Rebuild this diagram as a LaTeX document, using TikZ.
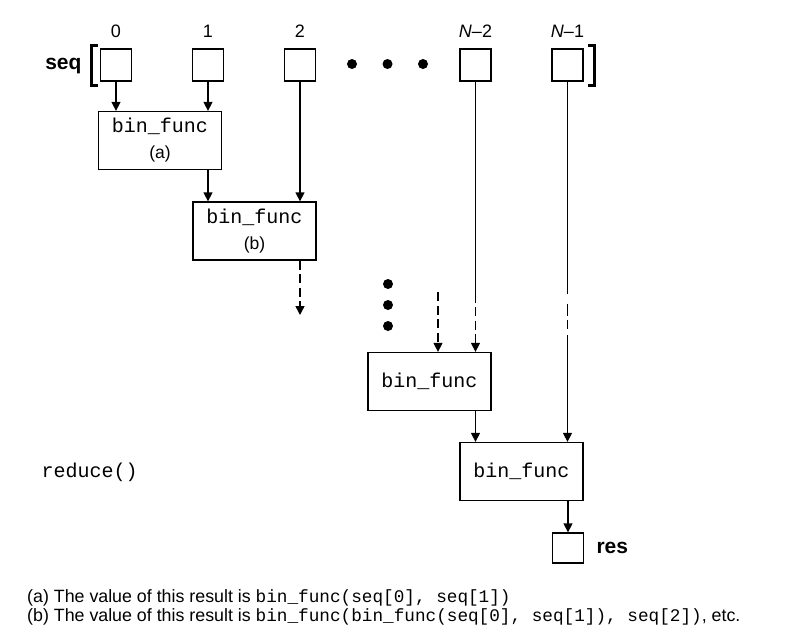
\documentclass[tikz,border=0pt]{standalone}
\usepackage{fontspec}
\setmainfont{Liberation Sans}
\setmonofont{Liberation Mono}
\usetikzlibrary{arrows.meta}
\begin{document}
\begin{tikzpicture}[x=1pt,y=-1pt,
  wire/.style={line width=1.4pt},
  arr/.style={wire,-{Triangle[width=9pt,length=9pt]}},
  dashedarr/.style={arr,dash pattern=on 9pt off 4.5pt},
  cell/.style={draw,line width=1.3pt,minimum width=31pt,minimum height=32pt,inner sep=0pt},
  func/.style={draw,line width=1.3pt,minimum width=123pt,minimum height=58pt,inner sep=0pt,align=center,
    font=\fontsize{17.5}{26}\selectfont},
  idx/.style={font=\fontsize{18}{20}\selectfont},
  tag/.style={font=\bfseries\fontsize{21}{22}\selectfont},
  note/.style={anchor=west,inner sep=0pt,font=\fontsize{17.8}{18}\selectfont},
  bracket/.style={line width=3pt},
  dot/.style={fill=black}]
\useasboundingbox (0,0) rectangle (806,643);

% the input sequence
\node[cell] (s0)  at (116,65) {};
\node[cell] (s1)  at (208,65) {};
\node[cell] (s2)  at (300,65) {};
\node[cell] (sN2) at (475.5,65) {};
\node[cell] (sN1) at (567.5,65) {};

\node[idx] (i0)  at (116,31) {0};
\node[idx] (i1)  at (208,31) {1};
\node[idx] (i2)  at (300,31) {2};
\node[idx] (iN2) at (475.5,31) {\textit{N}–2};
\node[idx] (iN1) at (567.5,31) {\textit{N}–1};

\node[tag,anchor=east] (seq) at (85,66) {seq};
\draw[bracket] (97.5,45) -- (91.5,45) -- (91.5,85) -- (97.5,85);
\draw[bracket] (588,45) -- (594,45) -- (594,85) -- (588,85);

\fill[dot] (352,64) circle (5pt);
\fill[dot] (387.5,64) circle (5pt);
\fill[dot] (423,64) circle (5pt);

% the chain of binary calls
\node[func] (f1) at (160,140.5) {{\ttfamily\fontsize{20}{26}\selectfont bin\_func}\\(a)};
\node[func] (f2) at (254.5,231) {{\ttfamily\fontsize{20}{26}\selectfont bin\_func}\\(b)};
\node[func] (f3) at (429.5,381.5) {\ttfamily\fontsize{20}{26}\selectfont bin\_func};
\node[func] (f4) at (521.5,471.5) {\ttfamily\fontsize{20}{26}\selectfont bin\_func};

\node[cell,minimum height=30pt] (res) at (568,548) {};
\node[tag,anchor=west] (reslab) at (593,548) {res};

\node[anchor=west,font=\ttfamily\fontsize{20}{22}\selectfont] (reduce) at (38,472) {reduce()};

\fill[dot] (388,284) circle (5pt);
\fill[dot] (388,305) circle (5pt);
\fill[dot] (388,326) circle (5pt);

\coordinate (d2end) at (300,315);
\coordinate (fan) at (438,292);

\draw[arr] (s0) -- (s0 |- f1.north);
\draw[arr] (s1) -- (s1 |- f1.north);
\draw[arr] (f1.south -| s1) -- (f2.north -| s1);
\draw[arr] (s2) -- (s2 |- f2.north);
\draw[dashedarr] (f2.south -| s2) -- (d2end);
\draw[dashedarr] (fan) -- (f3.north -| fan);
\draw[arr,dash pattern=on 221pt off 4.5pt on 9pt off 4.5pt on 9pt off 4.5pt on 9pt off 4.5pt on 30pt]
  (sN2) -- (sN2 |- f3.north);
\draw[arr,dash pattern=on 212pt off 10pt on 12pt off 4pt on 9pt off 6pt on 300pt]
  (sN1) -- (sN1 |- f4.north);
\draw[arr] (f3.south -| sN2) -- (f4.north -| sN2);
\draw[arr] (f4.south -| res) -- (res);

% notes
\node[note] (na) at (27,598)
  {(a) The value of this result is {\ttfamily\fontsize{17.7}{18}\selectfont bin\_func(seq[0], seq[1])}};
\node[note] (nb) at (27,617)
  {(b) The value of this result is {\ttfamily\fontsize{17.7}{18}\selectfont bin\_func(bin\_func(seq[0], seq[1]), seq[2])}, etc.};
\end{tikzpicture}
\end{document}
